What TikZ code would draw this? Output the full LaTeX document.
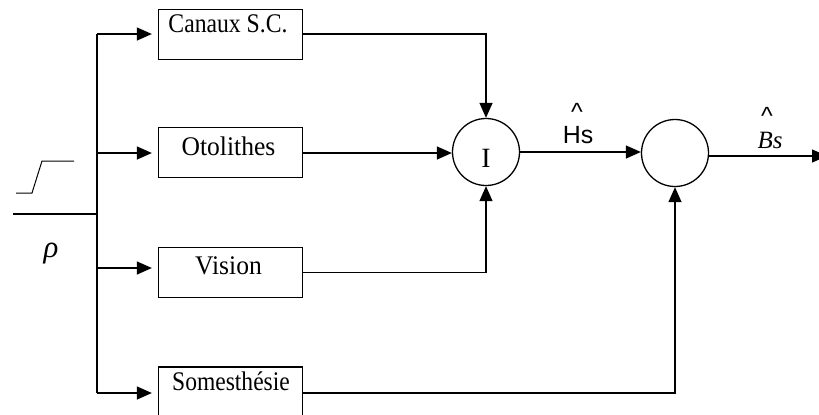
\documentclass[tikz,border=0pt]{standalone}
\usepackage{fontspec}
\setmainfont{Liberation Serif}
\newfontfamily\sansf{Liberation Sans}
\usetikzlibrary{arrows.meta}
\newcommand{\tallt}[2]{\scalebox{#1}[1]{#2}}
\begin{document}
\begin{tikzpicture}[x=1bp,y=-1bp,
  line width=1.3bp,
  tip/.style={-{Triangle[length=15bp,width=13bp]}},
  box/.style={draw,rectangle,minimum width=144bp,minimum height=50bp,inner sep=0pt},
  boxtext/.style={anchor=base,inner sep=0pt,font=\fontsize{27}{27}\selectfont},
  hatlabel/.style={inner sep=0pt,anchor=base},
  sumnode/.style={draw,circle,minimum size=67bp,inner sep=0pt}]
\fill[white] (0,0) rectangle (819,414);
\useasboundingbox (0,0) rectangle (819,414);
% boxes
\node[box] (can) at (230.5,34.5) {};
\node[box] (oto) at (230.5,152.5) {};
\node[box] (vis) at (230.5,272.5) {};
\node[box,minimum height=52bp] (som) at (230.5,393) {};
\node[boxtext] at (228,32) {\tallt{0.88}{Canaux S.C.}};
\node[boxtext] at (228.5,155) {\tallt{0.95}{Otolithes}};
\node[boxtext] at (228.5,274) {\tallt{0.95}{Vision}};
\node[boxtext] at (231,390) {\tallt{0.875}{Somesthésie}};
% summing nodes
\node[sumnode] (I) at (486,152) {};
\node[inner sep=0pt,anchor=base,font=\fontsize{28}{28}\selectfont] at (486,167.5) {I};
\node[sumnode] (S) at (675,153) {};
% input
\coordinate (j0) at (97,214);
\coordinate (j1) at (97,34);
\coordinate (j2) at (97,153);
\coordinate (j3) at (97,268);
\coordinate (j4) at (97,393);
\coordinate (in) at (13,214);
\draw[line width=2.6bp] (in) -- (j0);
\draw (j1) -- (j4);
\draw[line width=1bp] (16,193) -- (32,193) -- (42,161) -- (74,161);
\node[inner sep=0pt,font=\itshape\fontsize{31}{31}\selectfont] (rho) at (51,254) {ρ};
\draw[tip,shorten >=6bp] (j1) -- (j1 -| can.west);
\draw[tip,shorten >=6bp] (j2) -- (j2 -| oto.west);
\draw[tip,shorten >=6bp] (j3) -- (j3 -| vis.west);
\draw[tip,shorten >=6bp] (j4) -- (j4 -| som.west);
% box outputs
\draw[tip] (can.east |- 0,34) -| (I.north);
\draw[tip] (oto.east |- 0,153) -- (I.west |- 0,153);
\draw[tip] (vis.east) -| (I.south);
\draw[tip] (som.east) -| (S.south);
\draw[tip] (I.east) -- (S.west |- I.east);
\coordinate (out) at (827,156);
\draw[tip] (S.east |- out) -- (out);
% labels
\node[hatlabel,font=\sansf\fontsize{25}{25}\selectfont] (hshat) at (577,120) {\textasciicircum};
\node[hatlabel,font=\sansf\fontsize{25}{25}\selectfont] (hs) at (578,143) {Hs};
\node[hatlabel,font=\sansf\fontsize{25}{25}\selectfont] (bshat) at (767,124) {\textasciicircum};
\node[hatlabel,font=\itshape\fontsize{25}{25}\selectfont] (bs) at (770,148) {Bs};
\end{tikzpicture}
\end{document}
